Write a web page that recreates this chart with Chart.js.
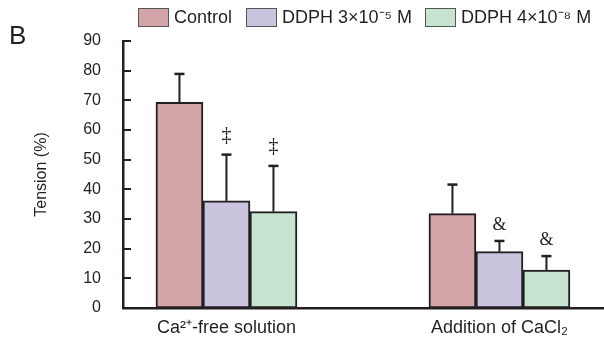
<!DOCTYPE html>
<html><head><meta charset="utf-8">
<script src="https://cdn.jsdelivr.net/npm/chart.js@4/dist/chart.umd.min.js"></script>
<style>html,body{margin:0;padding:0;background:#fff;overflow:hidden}#wrap{width:604px;height:341px;position:relative}</style>
</head><body><div id="wrap"><canvas id="c" width="604" height="341"></canvas></div>
<script>
// ---- data ----
const categories = ['Ca²⁺-free solution', 'Addition of CaCl₂'];
const seriesNames = ['Control', 'DDPH 3×10⁻⁵ M', 'DDPH 4×10⁻⁸ M'];
const controlValues = [69.3, 31.8];
const ddph3Values = [36.1, 19.0];
const ddph4Values = [32.5, 12.8];
const controlErrors = [9.6, 9.8];
const ddph3Errors = [15.6, 3.6];
const ddph4Errors = [15.4, 4.7];
const controlMarks = ['', ''];
const ddph3Marks = ['‡', '&'];
const ddph4Marks = ['‡', '&'];
const yTickValues = [0, 10, 20, 30, 40, 50, 60, 70, 80, 90];
const panelLabel = 'B';
const yTitle = 'Tension (%)';

// ---- styles ----
const INK = '#231f20';
const fills = ['#d3a5a9', '#cbc4df', '#c6e4cf'];
const legendBoxX = [138, 246, 425];
const seriesValues = [controlValues, ddph3Values, ddph4Values];
const seriesErrors = [controlErrors, ddph3Errors, ddph4Errors];
const seriesMarks = [controlMarks, ddph3Marks, ddph4Marks];

const datasets = seriesNames.map((name, s) => ({
  label: name,
  data: seriesValues[s].map((v, i) => ({x: i, y: v})),
  backgroundColor: fills[s],
  borderColor: INK,
  borderWidth: 2,
  borderSkipped: false,
  barThickness: 47
}));

const extras = {
  id: 'extras',
  afterDatasetsDraw(chart) {
    const ctx = chart.ctx, ys = chart.scales.y;
    ctx.save();
    chart.data.datasets.forEach((ds, s) => {
      const meta = chart.getDatasetMeta(s);
      meta.data.forEach((bar, i) => {
        const x = bar.x;
        const top = ys.getPixelForValue(seriesValues[s][i] + seriesErrors[s][i]);
        ctx.strokeStyle = INK;
        ctx.lineWidth = 2;
        ctx.beginPath();
        ctx.moveTo(x, bar.y);
        ctx.lineTo(x, top);
        ctx.stroke();
        ctx.lineWidth = 2.5;
        ctx.beginPath();
        ctx.moveTo(x - 5, top);
        ctx.lineTo(x + 5, top);
        ctx.stroke();
        const m = seriesMarks[s][i];
        if (m) {
          ctx.fillStyle = INK;
          ctx.textAlign = 'center';
          ctx.textBaseline = 'middle';
          if (m === '‡') {
            ctx.font = '20px "Liberation Serif"';
            ctx.fillText(m, x, top - 19);
          } else {
            ctx.font = '18px "Liberation Serif"';
            ctx.fillText(m, x, top - 16);
          }
        }
      });
    });
    // inward y ticks
    const left = chart.chartArea.left;
    ctx.strokeStyle = INK;
    ctx.lineWidth = 2;
    yTickValues.forEach(v => {
      if (v === 0) return;
      const y = Math.round(ys.getPixelForValue(v)) ;
      ctx.beginPath();
      ctx.moveTo(left, y);
      ctx.lineTo(left + 8, y);
      ctx.stroke();
    });
    ctx.restore();
  },
  afterDraw(chart) {
    const ctx = chart.ctx;
    ctx.save();
    ctx.fillStyle = INK;
    ctx.textBaseline = 'middle';
    ctx.textAlign = 'left';
    ctx.font = '26px "Liberation Sans"';
    ctx.fillText(panelLabel, 9, 37);
    ctx.font = '18px "Liberation Sans"';
    seriesNames.forEach((name, s) => {
      const bx = legendBoxX[s];
      ctx.fillStyle = fills[s];
      ctx.fillRect(bx, 8, 31, 19);
      ctx.strokeStyle = '#555';
      ctx.lineWidth = 1;
      ctx.strokeRect(bx + 0.5, 8.5, 30, 18);
      ctx.fillStyle = INK;
      ctx.fillText(name, bx + 36, 18);
    });
    ctx.restore();
  }
};

new Chart(document.getElementById('c'), {
  type: 'bar',
  data: { datasets },
  options: {
    responsive: false,
    animation: false,
    devicePixelRatio: 1,
    layout: { padding: { top: 41, right: 0, left: 0, bottom: 0 } },
    plugins: { legend: { display: false }, tooltip: { enabled: false } },
    scales: {
      x: {
        type: 'linear',
        offset: false,
        min: -0.379,
        max: 1.383,
        grid: { display: false, drawTicks: false, offset: false },
        border: { display: true, color: INK, width: 2.5 },
        afterBuildTicks: s => { s.ticks = categories.map((c, i) => ({ value: i })); },
        afterFit: s => { s.height = 33; },
        ticks: {
          autoSkip: false, maxRotation: 0, minRotation: 0,
          padding: 9,
          color: INK,
          font: { family: 'Liberation Sans', size: 18 },
          callback: v => categories[v] !== undefined ? categories[v] : ''
        }
      },
      y: {
        min: 0, max: 90,
        grid: { display: false, drawTicks: false },
        border: { display: true, color: INK, width: 2.5 },
        afterBuildTicks: s => { s.ticks = yTickValues.map(v => ({ value: v })); },
        afterFit: s => { s.width = 123; },
        ticks: {
          padding: 22,
          color: INK,
          font: { family: 'Liberation Sans', size: 16 }
        },
        title: {
          display: true, text: yTitle, color: INK,
          font: { family: 'Liberation Sans', size: 16 },
          padding: { top: 32, bottom: 0 }
        }
      }
    }
  },
  plugins: [extras]
});
</script></body></html>
